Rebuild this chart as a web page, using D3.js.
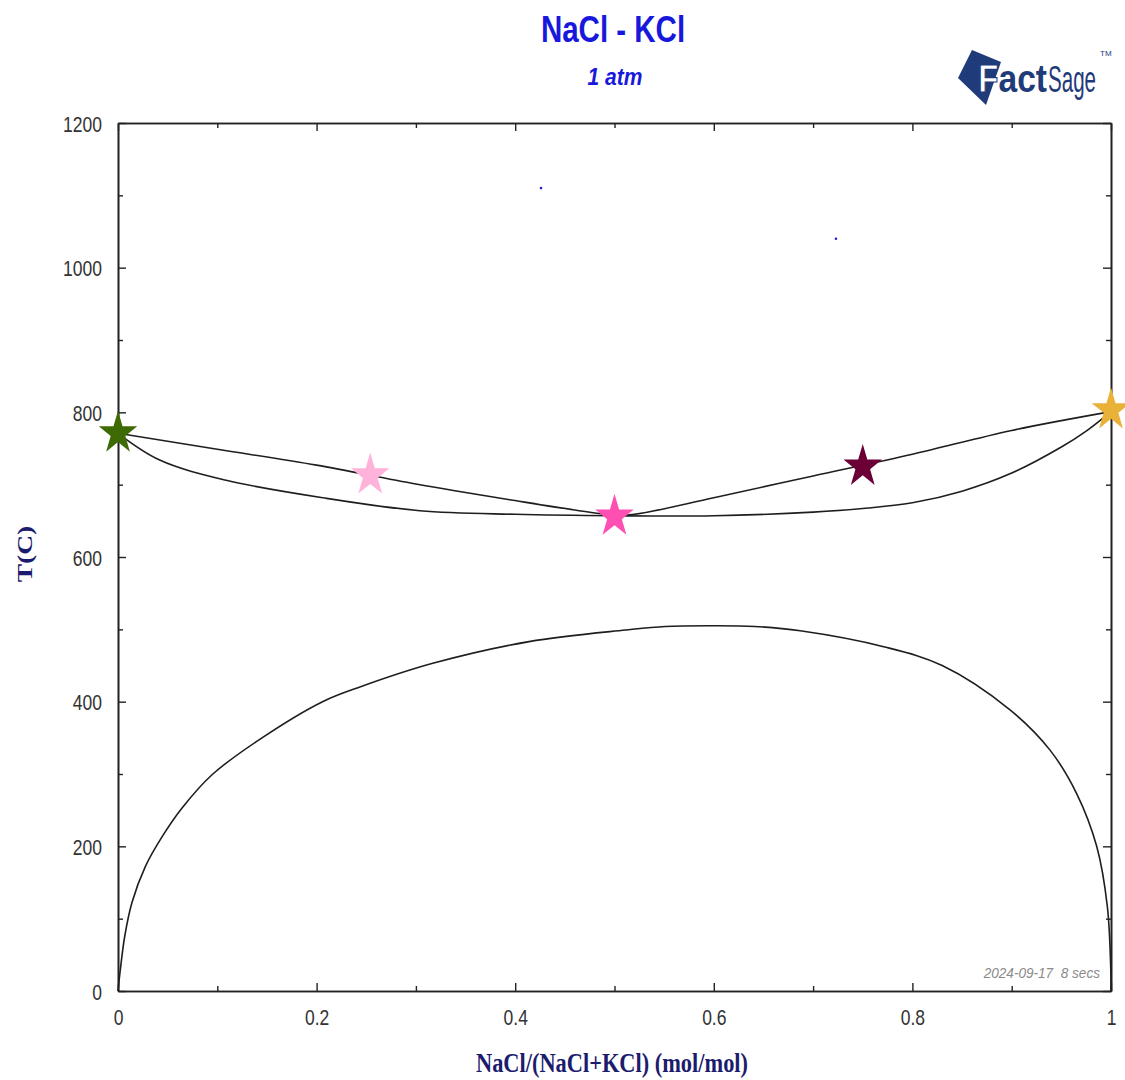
<!DOCTYPE html>
<html>
<head>
<meta charset="utf-8">
<script src="https://cdn.jsdelivr.net/npm/d3@7"></script>
<style>
body { margin: 0; background: #fff; }
svg { display: block; }
</style>
</head>
<body>
<div id="chart"></div>
<script>
// NaCl - KCl phase diagram at 1 atm

// liquidus, upper line between the end members
var liquidusX = [0, 0.1, 0.2, 0.3, 0.4, 0.46, 0.5, 0.52, 0.6, 0.7, 0.8, 0.9, 1.0];
var liquidusT = [771, 749, 727, 701, 678, 665, 658, 659, 682, 712, 742, 775, 801];

// solidus, lower line
var solidusX = [0, 0.042, 0.109, 0.21, 0.304, 0.4, 0.5, 0.6, 0.7, 0.75, 0.8, 0.85, 0.9, 0.95, 0.975, 1.0];
var solidusT = [771, 734, 706, 681, 664, 659, 657, 657, 662, 667, 675, 691, 716, 752, 774, 801];

// miscibility gap of the solid solution
var gapX = [0, 0.0023, 0.0067, 0.014, 0.0275, 0.0443, 0.0645, 0.0947, 0.145, 0.206, 0.245, 0.317, 0.414, 0.511, 0.551, 0.6, 0.641, 0.687, 0.771, 0.83, 0.898, 0.9386, 0.9654, 0.9856, 0.9963, 0.9997, 1.0];
var gapT = [0, 29, 75, 122, 172, 213, 253, 299, 350, 400, 421, 453, 483, 499, 504, 505, 504, 498, 476, 450, 389, 333, 273, 200, 117, 34, 0];

// star markers
var starX = [0, 0.254, 0.50, 0.75, 1.0];
var starT = [771, 713, 656, 725, 803];
var starColors = ["#3d6a02", "#ffb3da", "#ff4fb3", "#6a0036", "#e9b138"];

// stray blue points
var dotX = [0.426, 0.723];
var dotT = [1110, 1040];

// ticks
var xMajor = [0, 0.2, 0.4, 0.6, 0.8, 1];
var xMinor = [0.1, 0.3, 0.5, 0.7, 0.9];
var xTickLabels = ["0", "0.2", "0.4", "0.6", "0.8", "1"];
var yMajor = [0, 200, 400, 600, 800, 1000, 1200];
var yMinor = [100, 300, 500, 700, 900, 1100];
var yTickLabels = ["0", "200", "400", "600", "800", "1000", "1200"];

var width = 1125, height = 1080;

var svg = d3.select("#chart")
    .append("svg")
    .attr("width", width)
    .attr("height", height);

var x = d3.scaleLinear().domain([0, 1]).range([118, 1111]);
var y = d3.scaleLinear().domain([0, 1200]).range([991, 123]);

var labelFont = "'Liberation Sans', Arial, sans-serif";
var serifFont = "'Liberation Serif', 'Times New Roman', serif";

// axes, ticks pointing inwards on all four sides
function styleAxis(g) {
    g.attr("color", "#222");
    g.select(".domain").attr("stroke-width", 1.6);
    g.selectAll(".tick line").attr("stroke-width", 1.4);
}

svg.append("g")
    .attr("transform", "translate(0,991)")
    .call(d3.axisBottom(x).tickValues(xMajor).tickSize(-8).tickSizeOuter(0)
        .tickFormat(function(d, i) { return xTickLabels[i]; }))
    .call(styleAxis)
    .selectAll("text")
    .attr("y", 0).attr("dy", null)
    .attr("transform", "translate(0,34) scale(1,1.27)")
    .attr("fill", "#333")
    .style("font-family", labelFont)
    .style("font-size", "17.5px");

svg.append("g")
    .attr("transform", "translate(0,991)")
    .call(d3.axisBottom(x).tickValues(xMinor).tickSize(-5).tickSizeOuter(0).tickFormat(""))
    .call(styleAxis);

svg.append("g")
    .attr("transform", "translate(118,0)")
    .call(d3.axisLeft(y).tickValues(yMajor).tickSize(-8).tickSizeOuter(0)
        .tickFormat(function(d, i) { return yTickLabels[i]; }))
    .call(styleAxis)
    .selectAll("text")
    .attr("x", 0).attr("dy", null)
    .attr("transform", "translate(-16,8) scale(1,1.27)")
    .attr("fill", "#333")
    .style("font-family", labelFont)
    .style("font-size", "17.5px");

svg.append("g")
    .attr("transform", "translate(118,0)")
    .call(d3.axisLeft(y).tickValues(yMinor).tickSize(-5).tickSizeOuter(0).tickFormat(""))
    .call(styleAxis);

svg.append("g")
    .attr("transform", "translate(0,123)")
    .call(d3.axisTop(x).tickValues(xMajor).tickSize(-8).tickSizeOuter(0).tickFormat(""))
    .call(styleAxis);
svg.append("g")
    .attr("transform", "translate(0,123)")
    .call(d3.axisTop(x).tickValues(xMinor).tickSize(-5).tickSizeOuter(0).tickFormat(""))
    .call(styleAxis);

svg.append("g")
    .attr("transform", "translate(1111,0)")
    .call(d3.axisRight(y).tickValues(yMajor).tickSize(-8).tickSizeOuter(0).tickFormat(""))
    .call(styleAxis);
svg.append("g")
    .attr("transform", "translate(1111,0)")
    .call(d3.axisRight(y).tickValues(yMinor).tickSize(-5).tickSizeOuter(0).tickFormat(""))
    .call(styleAxis);

// phase boundaries
var line = d3.line()
    .x(function(d) { return x(d[0]); })
    .y(function(d) { return y(d[1]); })
    .curve(d3.curveCatmullRom.alpha(0.5));

var curves = [d3.zip(liquidusX, liquidusT), d3.zip(solidusX, solidusT), d3.zip(gapX, gapT)];

svg.selectAll(".boundary")
    .data(curves)
    .enter().append("path")
    .attr("class", "boundary")
    .attr("d", line)
    .attr("fill", "none")
    .attr("stroke", "#1e1e1e")
    .attr("stroke-width", 1.6);

svg.selectAll(".dot")
    .data(d3.zip(dotX, dotT))
    .enter().append("circle")
    .attr("class", "dot")
    .attr("cx", function(d) { return x(d[0]); })
    .attr("cy", function(d) { return y(d[1]); })
    .attr("r", 1.3)
    .attr("fill", "#2424c8");

svg.selectAll(".star")
    .data(d3.zip(starX, starT, starColors))
    .enter().append("path")
    .attr("class", "star")
    .attr("d", d3.symbol(d3.symbolStar, 460))
    .attr("transform", function(d) { return "translate(" + x(d[0]) + "," + y(d[1]) + ") scale(1,1.12)"; })
    .attr("fill", function(d) { return d[2]; });

// titles
svg.append("text")
    .attr("transform", "translate(613,42) scale(1,1.25)")
    .attr("text-anchor", "middle")
    .attr("fill", "#1818dc")
    .style("font-family", labelFont)
    .style("font-weight", "bold")
    .style("font-size", "29.5px")
    .text("NaCl - KCl");

svg.append("text")
    .attr("transform", "translate(615,85) scale(1,1.15)")
    .attr("text-anchor", "middle")
    .attr("fill", "#1818dc")
    .style("font-family", labelFont)
    .style("font-weight", "bold")
    .style("font-style", "italic")
    .style("font-size", "21px")
    .text("1 atm");

svg.append("text")
    .attr("transform", "translate(612,1072) scale(1,1.24)")
    .attr("text-anchor", "middle")
    .attr("fill", "#1c1c6e")
    .style("font-family", serifFont)
    .style("font-weight", "bold")
    .style("font-size", "22.4px")
    .text("NaCl/(NaCl+KCl) (mol/mol)");

svg.append("text")
    .attr("transform", "translate(32,554) rotate(-90) scale(1.25,1)")
    .attr("text-anchor", "middle")
    .attr("fill", "#1c1c6e")
    .style("font-family", serifFont)
    .style("font-weight", "bold")
    .style("font-size", "22px")
    .text("T(C)");

svg.append("text")
    .attr("transform", "translate(1100,978) scale(1,1.13)")
    .attr("text-anchor", "end")
    .attr("fill", "#8a8a8a")
    .style("font-family", labelFont)
    .style("font-style", "italic")
    .style("font-size", "13.6px")
    .style("white-space", "pre")
    .text("2024-09-17  8 secs");

// FactSage logo
var logo = svg.append("g");
logo.append("path")
    .attr("d", "M972,50 L958,78 L986,105 L1001,62 Z")
    .attr("fill", "#1f3b7a");
logo.append("text")
    .attr("transform", "translate(978,92) scale(1,1.2)")
    .style("font-family", labelFont)
    .style("font-weight", "bold")
    .style("font-size", "33px")
    .attr("textLength", 69)
    .attr("lengthAdjust", "spacingAndGlyphs")
    .attr("fill", "#1f3b7a")
    .html("<tspan fill='#fff' stroke='#1f3b7a' stroke-width='1'>F</tspan>act");
logo.append("text")
    .attr("transform", "translate(1048,92) scale(1,1.2)")
    .style("font-family", labelFont)
    .style("font-size", "31px")
    .attr("textLength", 48)
    .attr("lengthAdjust", "spacingAndGlyphs")
    .attr("fill", "#1f3b7a")
    .text("Sage");
logo.append("text")
    .attr("x", 1100)
    .attr("y", 56)
    .style("font-family", labelFont)
    .style("font-size", "8px")
    .attr("fill", "#1f3b7a")
    .text("TM");
</script>
</body>
</html>
